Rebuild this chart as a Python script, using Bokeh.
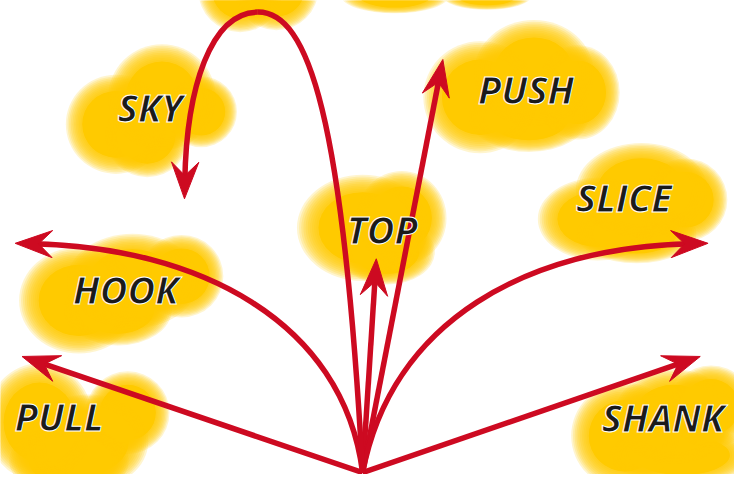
import numpy as np
from bokeh.plotting import figure
from bokeh.models import Range1d
from bokeh.core.properties import value
from bokeh.embed import file_html
from bokeh.resources import INLINE

# ---------------- data (tee at 0,0; x to the right, y upward) ----------------
straight_names = ["PULL", "TOP", "PUSH", "SHANK"]
straight_tip_x = [-348, 14, 82, 345]
straight_tip_y = [120, 221, 427, 120]

curve_names = ["HOOK", "SLICE", "SKY rise", "SKY fall"]
curve_x0 = [0, 0, 0, -107]
curve_y0 = [0, 0, 0, 476]
curve_cx0 = [-20, 30, -20, -155]
curve_cy0 = [158, 158, 368, 476]
curve_cx1 = [-170, 170, -55, -180]
curve_cy1 = [233, 233, 476, 398]
curve_x1 = [-355, 353, -107, -182]
curve_y1 = [237, 237, 476, 283]
curve_head = [True, True, False, True]

label_text = ["SKY", "PUSH", "SLICE", "TOP", "HOOK", "PULL", "SHANK"]
label_x = [-217, 167, 267, 20, -242, -310, 307]
label_y = [378, 396, 285, 252, 190, 58, 57]

# cloud blobs (x, y, width, height)
cloud_x = [-252, -205, -165, -220,  -125, -88,  33, 127,
           120, 175, 220, 170,  240, 285, 330, 280,
           0, 40, 25,  -290, -235, -185, -250,
           -330, -280, -240, -300,  268, 318, 356, 326]
cloud_y = [360, 388, 373, 348,  498, 500,  493, 493,
           388, 413, 393, 368,  262, 292, 282, 247,
           253, 263, 228,  178, 198, 203, 168,
           52, 32, 62, 12,  38, 58, 68, 18]
cloud_w = [84, 90, 60, 70,  70, 70,  90, 75,
           95, 100, 70, 100,  100, 110, 70, 100,
           110, 75, 80,  100, 110, 70, 90,
           90, 100, 70, 100,  90, 100, 70, 120]
cloud_h = [84, 90, 60, 70,  70, 70,  30, 24,
           95, 90, 80, 60,  70, 80, 70, 50,
           90, 80, 55,  90, 80, 70, 60,
           100, 80, 70, 60,  90, 80, 70, 50]

RED = "#cd0a21"
YELLOW = "#ffcc00"

p = figure(width=734, height=474, output_backend="svg", toolbar_location=None,
           x_range=Range1d(-370, 380), y_range=Range1d(-2, 488),
           min_border=0)
p.axis.visible = False
p.grid.visible = False
p.outline_line_color = None
p.background_fill_color = "white"
p.border_fill_color = "white"

# ---------------- soft clouds ----------------
scales = [0.82] + [0.86 + 0.04 * k for k in range(10)]
alphas = [1.0] + [0.19] * 10
cx, cy, cw, ch, ca = [], [], [], [], []
for s, a in zip(scales, alphas):
    for x, y, w, h in zip(cloud_x, cloud_y, cloud_w, cloud_h):
        cx.append(x); cy.append(y); cw.append(w * s); ch.append(h * s); ca.append(a)
p.ellipse(x=cx, y=cy, width=cw, height=ch, fill_color=YELLOW, fill_alpha=ca,
          line_color=None)

# ---------------- arrows ----------------
HEAD_L, HEAD_W, HEAD_N, LINE_BACK = 38, 14, 24, 18
head_xs, head_ys = [], []

def add_head(tx, ty, ux, uy):
    nx, ny = -uy, ux
    head_xs.append([tx, tx - HEAD_L * ux + HEAD_W * nx, tx - HEAD_N * ux, tx - HEAD_L * ux - HEAD_W * nx])
    head_ys.append([ty, ty - HEAD_L * uy + HEAD_W * ny, ty - HEAD_N * uy, ty - HEAD_L * uy - HEAD_W * ny])

# straight shots
sx1, sy1 = [], []
for tx, ty in zip(straight_tip_x, straight_tip_y):
    d = np.hypot(tx, ty)
    ux, uy = tx / d, ty / d
    sx1.append(tx - LINE_BACK * ux); sy1.append(ty - LINE_BACK * uy)
    add_head(tx, ty, ux, uy)
p.segment(x0=[0] * len(sx1), y0=[0] * len(sy1), x1=sx1, y1=sy1,
          line_color=RED, line_width=5.5)

# curved shots
bx1, by1 = [], []
for i in range(len(curve_names)):
    tx, ty = curve_x1[i], curve_y1[i]
    if curve_head[i]:
        dx, dy = tx - curve_cx1[i], ty - curve_cy1[i]
        d = np.hypot(dx, dy)
        ux, uy = dx / d, dy / d
        add_head(tx, ty, ux, uy)
        bx1.append(tx - LINE_BACK * ux); by1.append(ty - LINE_BACK * uy)
    else:
        bx1.append(tx); by1.append(ty)
p.bezier(x0=curve_x0, y0=curve_y0, x1=bx1, y1=by1,
         cx0=curve_cx0, cy0=curve_cy0, cx1=curve_cx1, cy1=curve_cy1,
         line_color=RED, line_width=5.5)

p.patches(xs=head_xs, ys=head_ys, fill_color=RED, line_color=RED, line_width=1)

# ---------------- labels ----------------
p.text(x=label_x, y=label_y, text=label_text,
       text_font=value("Open Sans"), text_font_style="bold italic",
       text_font_size="38px", text_color="#1a1a1a",
       text_align="center", text_baseline="middle",
       text_outline_color="white")

open("out.html", "w").write(file_html(p, INLINE))
